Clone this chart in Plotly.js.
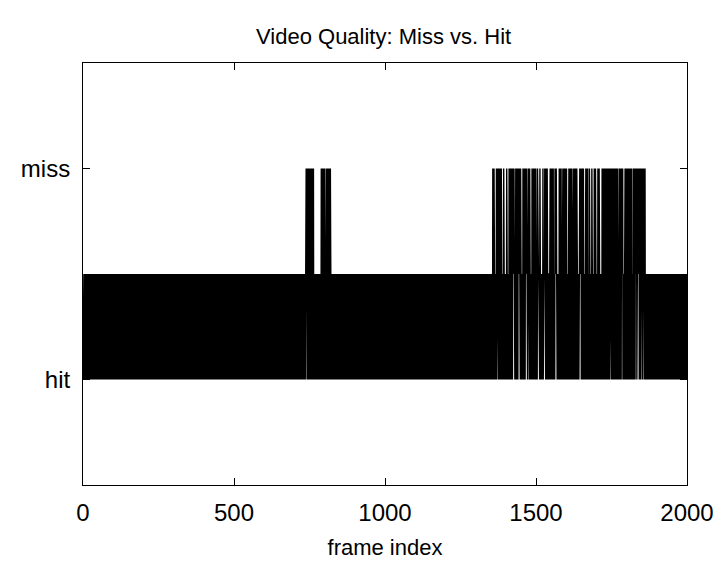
<!DOCTYPE html>
<html>
<head>
<meta charset="utf-8">
<script src="https://cdn.plot.ly/plotly-3.0.1.min.js"></script>
<style>html,body{margin:0;padding:0;background:#fff;}#chart{width:717px;height:571px;}</style>
</head>
<body>
<div id="chart"></div>
<script>
// ---- data ----
const frameCount = 2000;
// frame ranges where the trace reaches the "miss" level
const missSpans = [[739, 763], [788, 802], [806, 821], [1357, 1862]];
// frames inside miss spans where the trace does not reach "miss"
const topGaps = [1366, 1389, 1399, 1408, 1430, 1453, 1472, 1483, 1502, 1510, 1519, 1526, 1542,
  1560, 1573, 1586, 1604, 1622, 1639, 1661, 1674, 1682, 1689, 1702, 1715, 1774, 1790, 1820];
// frames where the trace does not drop to the "hit" level
const lowGaps = [739, 808, 1373, 1425, 1443, 1467, 1475, 1507, 1527, 1542, 1565, 1584, 1647,
  1747, 1756, 1768, 1785, 1798, 1831, 1839, 1849, 1856];
const levelHit = 0, levelMid = 0.5, levelMiss = 1;
const yTickVals = [levelHit, levelMiss];
const yTickText = ['hit', 'miss'];
const xTickVals = [0, 500, 1000, 1500, 2000];

// ---- build the trace ----
const near = (list, f, w) => list.some(g => Math.abs(g - f) <= w);
const inMiss = f => missSpans.some(s => f >= s[0] && f <= s[1]);
const xs = [], ys = [];
for (let f = 0; f <= frameCount; f++) {
  let v;
  if (f % 2 === 0) {
    v = near(lowGaps, f, 1) ? levelMid : levelHit;
  } else {
    v = (inMiss(f) && !near(topGaps, f, 2)) ? levelMiss : levelMid;
  }
  xs.push(f); ys.push(v);
}

const font = 'Liberation Sans, Arial, sans-serif';
Plotly.newPlot('chart', [{
  x: xs, y: ys, type: 'scatter', mode: 'lines',
  line: {color: '#000', width: 1.4}, hoverinfo: 'skip', showlegend: false
}], {
  width: 717, height: 571,
  margin: {l: 83, r: 30, t: 63, b: 86},
  paper_bgcolor: '#fff', plot_bgcolor: '#fff',
  title: {text: 'Video Quality: Miss vs. Hit', font: {family: font, size: 22, color: '#000'},
          x: 0.535, xanchor: 'center', y: 1 - 36/571, yref: 'container', yanchor: 'middle'},
  xaxis: {range: [0, 2000], tickvals: xTickVals, ticks: 'inside', ticklen: 7, tickcolor: '#000',
          showline: true, linecolor: '#000', linewidth: 1, mirror: 'ticks', showgrid: false, zeroline: false,
          ticklabelstandoff: 6,
          tickfont: {family: font, size: 24, color: '#000'},
          title: {text: 'frame index', font: {family: font, size: 22, color: '#000'}, standoff: 14}},
  yaxis: {range: [-0.5, 1.5], tickvals: yTickVals, ticktext: yTickText, ticks: 'inside', ticklen: 7, tickcolor: '#000',
          showline: true, linecolor: '#000', linewidth: 1, mirror: 'ticks', showgrid: false, zeroline: false,
          ticklabelstandoff: 7,
          tickfont: {family: font, size: 24, color: '#000'}}
}, {displayModeBar: false, staticPlot: true});
</script>
</body>
</html>
